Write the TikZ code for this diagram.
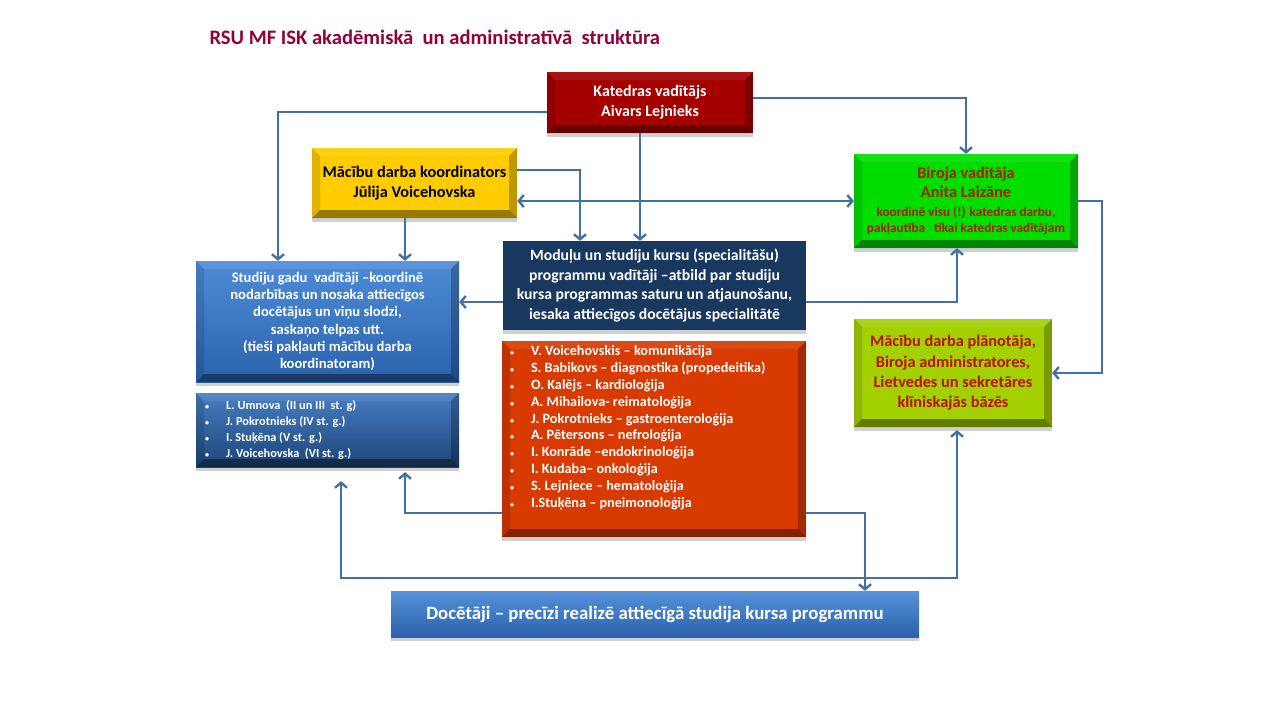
\documentclass[tikz,border=0pt]{standalone}
\usepackage{fontspec}
\setmainfont{Carlito}
\usetikzlibrary{arrows.meta,shadows}

\definecolor{titlered}{RGB}{150,0,58}
\definecolor{katred}{RGB}{165,0,0}
\definecolor{koordgold}{RGB}{255,204,0}
\definecolor{birgreen}{RGB}{0,222,0}
\definecolor{planlime}{RGB}{162,208,0}
\definecolor{modnavy}{RGB}{24,56,96}
\definecolor{specred}{RGB}{216,58,0}
\definecolor{bluetop}{RGB}{78,140,216}
\definecolor{bluebot}{RGB}{42,98,172}
\definecolor{textred}{RGB}{190,16,0}
\definecolor{birtext}{RGB}{170,30,0}
\definecolor{arrowblue}{RGB}{66,112,164}

\newcommand{\pnt}{\makebox[21pt][l]{\fontsize{8}{8}\selectfont•}}

\tikzset{
  bevel/.style={path picture={
    \coordinate (sw) at (path picture bounding box.south west);
    \coordinate (se) at (path picture bounding box.south east);
    \coordinate (nw) at (path picture bounding box.north west);
    \coordinate (ne) at (path picture bounding box.north east);
    \fill[black,opacity=.12] (nw) -- (sw) -- ++(8pt,8pt) -- ([shift={(8pt,-8pt)}]nw) -- cycle;
    \fill[white,opacity=.08] (nw) -- (ne) -- ++(-8pt,-8pt) -- ([shift={(8pt,-8pt)}]nw) -- cycle;
    \fill[black,opacity=.25] (ne) -- (se) -- ++(-8pt,8pt) -- ([shift={(-8pt,-8pt)}]ne) -- cycle;
    \fill[black,opacity=.4] (sw) -- (se) -- ++(-8pt,8pt) -- ([shift={(8pt,8pt)}]sw) -- cycle;
  }},
  shade/.style={drop shadow={shadow xshift=0pt,shadow yshift=-4pt,opacity=.3,fill=black!60}},
  conn/.style={draw=arrowblue,line width=2.4pt,-{Straight Barb[length=5pt,width=12pt]}},
  conn2/.style={draw=arrowblue,line width=2.4pt,{Straight Barb[length=5pt,width=12pt]}-{Straight Barb[length=5pt,width=12pt]}},
}

\begin{document}
\begin{tikzpicture}[x=1pt,y=-1pt]
  \fill[white] (0,0) rectangle (1280,720);
  \useasboundingbox (0,0) rectangle (1280,720);

  \node[anchor=west,text=titlered,font=\bfseries\fontsize{20.6}{24}\selectfont] (title) at (206,37)
    {RSU MF ISK akadēmiskā~ un administratīvā~ struktūra};

  \node[shade,fill=katred,bevel,minimum width=206,minimum height=61,text=white,align=center,
    font=\bfseries\fontsize{16}{20}\selectfont] (kat) at (650,102.5) {Katedras vadītājs\\Aivars Lejnieks};

  \node[shade,fill=koordgold,bevel,minimum width=205,minimum height=70,align=center,
    font=\bfseries\fontsize{16.3}{20}\selectfont] (koord) at (414.5,183) {Mācību darba koordinators\\Jūlija Voicehovska};

  \node[shade,fill=birgreen,bevel,inner sep=0pt,text=birtext,font=\bfseries] (bir) at (966,201)
    {\begin{minipage}[c][94pt][c]{224pt}\centering
     \fontsize{16.3}{19}\selectfont Biroja vadītāja\par Anita Laizāne\par\vspace{3pt}
     \fontsize{13.2}{16}\selectfont koordinē visu (!) katedras darbu,\par pakļautība~ ~tikai katedras vadītājam\par
     \end{minipage}};

  \node[shade,top color=bluetop,bottom color=bluebot,bevel,minimum width=263,minimum height=121,text=white,align=center,
    font=\bfseries\fontsize{14.6}{17.2}\selectfont] (stud) at (327.5,321.5)
    {Studiju gadu~ vadītāji –koordinē\\nodarbības un nosaka attiecīgos\\docētājus un viņu slodzi,\\
     saskaņo telpas utt.\\(tieši pakļauti mācību darba\\koordinatoram)};

  \node[shade,top color=bluetop!90!black,bottom color=bluebot!70!black,bevel,inner sep=0pt,text=white,
    font=\bfseries\fontsize{12.3}{16}\selectfont] (gadi) at (327.5,430)
    {\begin{minipage}[c][74pt][c]{263pt}\leftskip=9pt
     \pnt L. Umnova~ (II un III~ st. g)\\
     \pnt J. Pokrotnieks (IV st. g.)\\
     \pnt I. Stuķēna (V st. g.)\\
     \pnt J. Voicehovska~ (VI st. g.)
     \end{minipage}};

  \node[shade,fill=modnavy,minimum width=303,minimum height=89,text=white,align=center,
    font=\bfseries\fontsize{15.7}{19.5}\selectfont] (mod) at (654.5,285.5)
    {Moduļu un studiju kursu (specialitāšu)\\programmu vadītāji –atbild par studiju\\
     kursa programmas saturu un atjaunošanu,\\iesaka attiecīgos docētājus specialitātē};

  \node[shade,fill=specred,bevel,inner sep=0pt,text=white,
    font=\bfseries\fontsize{14.2}{16.8}\selectfont] (spec) at (654,439)
    {\begin{minipage}[c][196pt][t]{304pt}\vspace*{5pt}\leftskip=8pt
     \pnt V. Voicehovskis – komunikācija\\
     \pnt S. Babikovs – diagnostika (propedeitika)\\
     \pnt O. Kalējs – kardioloģija\\
     \pnt A. Mihailova- reimatoloģija\\
     \pnt J. Pokrotnieks – gastroenteroloģija\\
     \pnt A. Pētersons – nefroloģija\\
     \pnt I. Konrāde –endokrinoloģija\\
     \pnt I. Kudaba– onkoloģija\\
     \pnt S. Lejniece – hematoloģija\\
     \pnt I.Stuķēna – pneimonoloģija
     \end{minipage}};

  \node[shade,fill=planlime,bevel,minimum width=198,minimum height=108,text=textred,align=center,
    font=\bfseries\fontsize{16.3}{20.3}\selectfont] (plan) at (953,373)
    {Mācību darba plānotāja,\\Biroja administratores,\\Lietvedes un sekretāres\\klīniskajās bāzēs};

  \node[shade,top color=bluetop!95!white,bottom color=bluebot,minimum width=528,minimum height=46,text=white,
    font=\bfseries\fontsize{18.8}{22}\selectfont] (doc) at (655,614)
    {Docētāji – precīzi realizē attiecīgā studija kursa programmu};

  \draw[conn] ([yshift=-9.5pt]kat.west) -| ([xshift=-49.5pt]stud.north);
  \draw[conn] ([xshift=-10pt]kat.south) -- ([xshift=-10pt]kat.south |- mod.north);
  \draw[conn] ([yshift=4.5pt]kat.east) -| (bir.north);
  \draw[conn] ([yshift=13pt]koord.east) -| ([xshift=-74.5pt]mod.north);
  \draw[conn2] (koord.east |- bir.west) -- (bir.west);
  \draw[conn] ([xshift=-9.5pt]koord.south) -- ([xshift=-9.5pt]koord.south |- stud.north);
  \draw[conn] ([yshift=-16.5pt]mod.west) -- ([yshift=-16.5pt]mod.west -| stud.east);
  \draw[conn] ([yshift=-16.5pt]mod.east) -| ([xshift=-9pt]bir.south);
  \draw[conn] (bir.east) -- ++(24,0) |- (plan.east);
  \draw[conn] ([yshift=-74pt]spec.west) -| ([xshift=77.5pt,yshift=-5pt]gadi.south);
  \draw[conn] ([yshift=-74pt]spec.east) -| ([xshift=210pt]doc.north);
  \draw[conn2] ([xshift=13.5pt,yshift=-14pt]gadi.south) |- ([yshift=13pt]doc.north) -| ([xshift=4pt,yshift=-3pt]plan.south);
\end{tikzpicture}
\end{document}
